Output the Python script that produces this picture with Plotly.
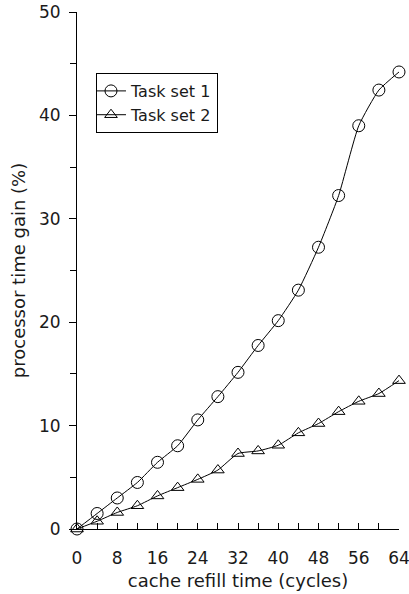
import plotly.graph_objects as go

refill_cycles = [0, 4, 8, 12, 16, 20, 24, 28, 32, 36, 40, 44, 48, 52, 56, 60, 64]
task_set_1 = [0, 1.5, 3.0, 4.5, 6.45, 8.05, 10.55, 12.8, 15.15, 17.75, 20.15, 23.1, 27.25, 32.25, 39.0, 42.45, 44.2]
task_set_2 = [0, 0.75, 1.6, 2.25, 3.2, 4.0, 4.8, 5.7, 7.3, 7.55, 8.1, 9.3, 10.2, 11.35, 12.35, 13.1, 14.35]
x_tick_vals = [0, 8, 16, 24, 32, 40, 48, 56, 64]
y_tick_vals = [0, 10, 20, 30, 40, 50]

FONT = "DejaVu Sans"

fig = go.Figure()
fig.add_trace(go.Scatter(
    x=refill_cycles, y=task_set_1, name="Task set 1", mode="lines+markers",
    line=dict(color="black", width=1, shape="spline", smoothing=0.5),
    marker=dict(symbol="circle-open", size=12, color="black", line=dict(width=1)),
    cliponaxis=False,
))
fig.add_trace(go.Scatter(
    x=refill_cycles, y=task_set_2, name="Task set 2", mode="lines+markers",
    line=dict(color="black", width=1, shape="spline", smoothing=0.5),
    marker=dict(symbol="triangle-up-open", size=11, color="black", line=dict(width=1)),
    cliponaxis=False,
))

fig.update_layout(
    width=409, height=594,
    margin=dict(l=77, r=10, t=12, b=65, autoexpand=False),
    plot_bgcolor="white", paper_bgcolor="white",
    font=dict(family=FONT, size=16, color="#1a1a1a"),
    showlegend=True,
    legend=dict(
        x=0.059, y=0.882, xanchor="left", yanchor="top",
        bordercolor="black", borderwidth=1, bgcolor="white",
        font=dict(size=16, family=FONT), itemwidth=30,
        tracegroupgap=0, indentation=-6,
    ),
)
fig.update_xaxes(
    range=[0, 64], tickvals=x_tick_vals, ticktext=[str(v) for v in x_tick_vals],
    showgrid=False, zeroline=False, showline=True, linecolor="black", linewidth=1,
    ticks="inside", ticklen=6, tickcolor="black", tickwidth=1,
    minor=dict(dtick=4, tick0=0, ticks="inside", ticklen=6, tickcolor="black", tickwidth=1, showgrid=False),
    ticklabelstandoff=14, automargin=False, ticklabeloverflow="allow",
    tickfont=dict(size=17),
    title=dict(text="cache refill time (cycles)", font=dict(size=18), standoff=6),
)
fig.update_yaxes(
    range=[0, 50], tickvals=y_tick_vals, ticktext=[str(v) for v in y_tick_vals],
    showgrid=False, zeroline=False, showline=True, linecolor="black", linewidth=1,
    ticks="outside", ticklen=7, tickcolor="black", tickwidth=1,
    minor=dict(dtick=5, tick0=0, ticks="outside", ticklen=6, tickcolor="black", tickwidth=1, showgrid=False),
    ticklabelstandoff=5, automargin=False, ticklabeloverflow="allow",
    tickfont=dict(size=17),
    title=dict(text="processor time gain (%)", font=dict(size=18), standoff=8),
)

fig.write_html(
    "out.html",
    config={"displayModeBar": False},
    post_script="document.body.style.margin='0';document.body.style.overflow='hidden';",
)
